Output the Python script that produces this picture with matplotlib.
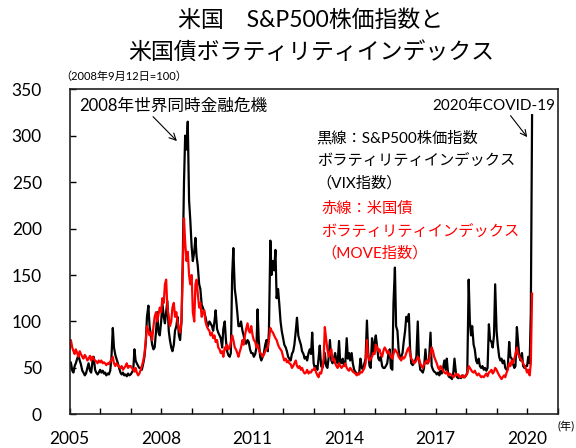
import numpy as np
import pandas as pd
import matplotlib
matplotlib.use("Agg")
import matplotlib.pyplot as plt

plt.rcParams['font.family'] = ['Lato', 'Noto Sans CJK JP', 'DejaVu Sans']

# VIX (S&P500 volatility), normalised 2008-09-12 = 100, semi-monthly readings
vix_2005 = [52, 56, 47, 45, 52, 55, 60, 64, 58, 54, 47, 45, 42, 44, 50, 55, 47, 45, 57, 62, 48, 45, 43, 45]
vix_2006 = [48, 45, 47, 44, 45, 42, 44, 43, 47, 60, 93, 72, 64, 60, 55, 50, 45, 43, 45, 42, 43, 41, 44, 42]
vix_2007 = [43, 45, 48, 70, 58, 55, 52, 50, 50, 48, 55, 62, 78, 105, 117, 95, 85, 75, 70, 72, 90, 110, 88, 85]
vix_2008 = [100, 120, 105, 98, 110, 122, 90, 80, 72, 68, 75, 90, 95, 105, 85, 80, 100, 160, 250, 300, 285, 315, 230, 210]
vix_2009 = [180, 165, 175, 190, 170, 160, 140, 135, 118, 115, 110, 105, 98, 95, 100, 98, 95, 90, 100, 112, 92, 88, 85, 82]
vix_2010 = [72, 92, 100, 80, 68, 64, 62, 66, 150, 179, 135, 125, 110, 95, 95, 100, 90, 85, 78, 76, 80, 78, 70, 66]
vix_2011 = [66, 62, 65, 72, 113, 80, 62, 58, 62, 66, 75, 80, 68, 90, 187, 150, 165, 155, 177, 125, 135, 120, 100, 90]
vix_2012 = [82, 75, 72, 68, 62, 60, 58, 65, 68, 75, 90, 104, 85, 80, 75, 68, 65, 60, 62, 58, 66, 70, 65, 88]
vix_2013 = [55, 50, 52, 48, 60, 74, 52, 50, 55, 66, 52, 50, 62, 80, 58, 55, 60, 66, 58, 55, 79, 56, 55, 60]
vix_2014 = [52, 55, 82, 60, 66, 58, 66, 55, 48, 46, 44, 43, 45, 60, 50, 48, 55, 60, 101, 68, 52, 50, 82, 65]
vix_2015 = [78, 85, 72, 60, 58, 62, 52, 50, 50, 52, 55, 65, 70, 50, 48, 120, 158, 95, 90, 70, 60, 62, 66, 78]
vix_2016 = [90, 105, 100, 108, 70, 55, 53, 55, 58, 62, 100, 60, 48, 47, 45, 50, 70, 55, 55, 60, 88, 52, 48, 46]
vix_2017 = [45, 43, 45, 42, 47, 44, 50, 58, 48, 60, 42, 40, 40, 38, 45, 60, 45, 40, 39, 40, 39, 42, 40, 40]
vix_2018 = [42, 45, 145, 100, 85, 95, 75, 70, 58, 55, 60, 52, 50, 52, 48, 50, 47, 50, 97, 80, 78, 72, 85, 140]
vix_2019 = [90, 75, 62, 58, 60, 55, 58, 50, 48, 50, 78, 62, 60, 55, 50, 52, 94, 78, 62, 58, 66, 52, 50, 52]
vix_2020 = [52, 62, 55, 110, 322]

# MOVE (US Treasury volatility), normalised 2008-09-12 = 100, semi-monthly readings
move_2005 = [70, 80, 72, 68, 65, 70, 66, 62, 68, 65, 62, 60, 64, 62, 58, 60, 63, 58, 62, 60, 58, 57, 55, 58]
move_2006 = [56, 58, 55, 56, 55, 53, 55, 54, 57, 58, 62, 55, 52, 55, 53, 51, 50, 52, 48, 50, 52, 55, 50, 52]
move_2007 = [52, 50, 48, 46, 50, 45, 42, 44, 48, 52, 58, 65, 80, 95, 90, 85, 88, 80, 95, 105, 110, 100, 108, 115]
move_2008 = [110, 125, 120, 140, 145, 115, 105, 95, 100, 115, 120, 105, 110, 100, 92, 88, 100, 150, 211, 185, 165, 175, 150, 140]
move_2009 = [150, 110, 100, 140, 145, 130, 115, 120, 105, 110, 112, 100, 95, 92, 90, 85, 88, 82, 85, 78, 80, 72, 70, 66]
move_2010 = [68, 62, 72, 70, 75, 70, 72, 78, 85, 80, 72, 70, 66, 62, 68, 72, 80, 75, 85, 92, 98, 90, 88, 95]
move_2011 = [85, 80, 78, 72, 75, 70, 66, 65, 62, 64, 68, 70, 72, 80, 93, 90, 88, 85, 82, 80, 75, 72, 70, 68]
move_2012 = [62, 58, 60, 56, 58, 55, 54, 50, 52, 55, 58, 52, 50, 52, 48, 50, 46, 44, 45, 48, 44, 46, 45, 48]
move_2013 = [48, 50, 45, 42, 40, 45, 44, 50, 60, 94, 80, 70, 62, 66, 70, 58, 60, 55, 52, 50, 55, 52, 50, 52]
move_2014 = [52, 55, 50, 48, 47, 50, 48, 46, 45, 44, 42, 44, 43, 46, 45, 47, 50, 55, 80, 62, 58, 60, 62, 66]
move_2015 = [65, 75, 72, 68, 70, 65, 62, 68, 72, 70, 66, 68, 65, 62, 60, 65, 70, 68, 66, 62, 60, 58, 62, 60]
move_2016 = [62, 66, 70, 72, 65, 60, 58, 55, 56, 58, 62, 60, 55, 52, 50, 54, 56, 58, 55, 58, 66, 72, 68, 62]
move_2017 = [58, 55, 50, 48, 52, 50, 47, 45, 44, 46, 42, 44, 43, 42, 40, 41, 44, 42, 43, 40, 41, 40, 42, 40]
move_2018 = [42, 44, 52, 50, 48, 46, 45, 47, 44, 42, 44, 42, 40, 41, 40, 42, 44, 41, 45, 46, 48, 44, 46, 50]
move_2019 = [48, 45, 42, 40, 38, 40, 42, 40, 45, 48, 55, 52, 58, 55, 60, 65, 72, 65, 62, 60, 58, 55, 52, 50]
move_2020 = [45, 48, 42, 55, 130]

vix = (vix_2005 + vix_2006 + vix_2007 + vix_2008 + vix_2009 + vix_2010 + vix_2011 + vix_2012
       + vix_2013 + vix_2014 + vix_2015 + vix_2016 + vix_2017 + vix_2018 + vix_2019 + vix_2020)
move = (move_2005 + move_2006 + move_2007 + move_2008 + move_2009 + move_2010 + move_2011 + move_2012
        + move_2013 + move_2014 + move_2015 + move_2016 + move_2017 + move_2018 + move_2019 + move_2020)

dates = pd.date_range("2005-01-01", periods=len(vix), freq="SMS")
def to_year(d):
    return d.year + (d.dayofyear - 1) / (366 if d.is_leap_year else 365)
x = np.array([to_year(d) for d in dates])

year_ticks = list(range(2005, 2022))
year_labels = [str(y) if (y - 2005) % 3 == 0 else "" for y in year_ticks]
y_ticks = [0, 50, 100, 150, 200, 250, 300, 350]

fig = plt.figure(figsize=(5.76, 4.48), dpi=100)
ax = fig.add_axes([0.121, 0.075, 0.847, 0.726])

ax.plot(x, vix, color="black", lw=1.6)
ax.plot(x, move[:len(x)], color="#ff0000", lw=1.6)

ax.set_xlim(2005, 2021)
ax.set_ylim(0, 350)
ax.set_xticks(year_ticks)
ax.set_xticklabels(year_labels)
ax.set_yticks(y_ticks)
ax.tick_params(axis="both", direction="in", length=4, width=1, labelsize=12.5)
ax.tick_params(axis="y", pad=20, left=True)
ax.tick_params(axis="x", pad=12)
for s in ax.spines.values():
    s.set_linewidth(1.2)
    s.set_color("#222222")

fig.text(0.54, 0.955, "米国　S&P500株価指数と", ha="center", va="center", fontsize=16.5)
fig.text(0.54, 0.885, "米国債ボラティリティインデックス", ha="center", va="center", fontsize=16.5)
fig.text(0.105, 0.830, "（2008年9月12日=100）", ha="left", va="center", fontsize=8)
fig.text(0.997, 0.048, "(年)", ha="right", va="center", fontsize=8)

ax.annotate("2008年世界同時金融危機", xy=(2008.58, 292), xytext=(2005.3, 332),
            ha="left", va="center", fontsize=12,
            arrowprops=dict(arrowstyle="->", color="black", lw=0.8, shrinkA=0,
                            relpos=(0.38, 0.0)))
ax.annotate("2020年COVID-19", xy=(2020.06, 296), xytext=(2020.92, 332),
            ha="right", va="center", fontsize=11,
            arrowprops=dict(arrowstyle="->", color="black", lw=0.8, shrinkA=0,
                            relpos=(0.62, 0.0)))

ax.text(2013.1, 297, "黒線：S&P500株価指数", fontsize=11, ha="left", va="center")
ax.text(2013.1, 273, "ボラティリティインデックス", fontsize=11, ha="left", va="center")
ax.text(2013.1, 249, "（VIX指数）", fontsize=11, ha="left", va="center")
ax.text(2013.25, 221, "赤線：米国債", fontsize=11, ha="left", va="center", color="#ff0000")
ax.text(2013.25, 196, "ボラティリティインデックス", fontsize=11, ha="left", va="center", color="#ff0000")
ax.text(2013.25, 173, "（MOVE指数）", fontsize=11, ha="left", va="center", color="#ff0000")

fig.savefig("out.png", dpi=100)
